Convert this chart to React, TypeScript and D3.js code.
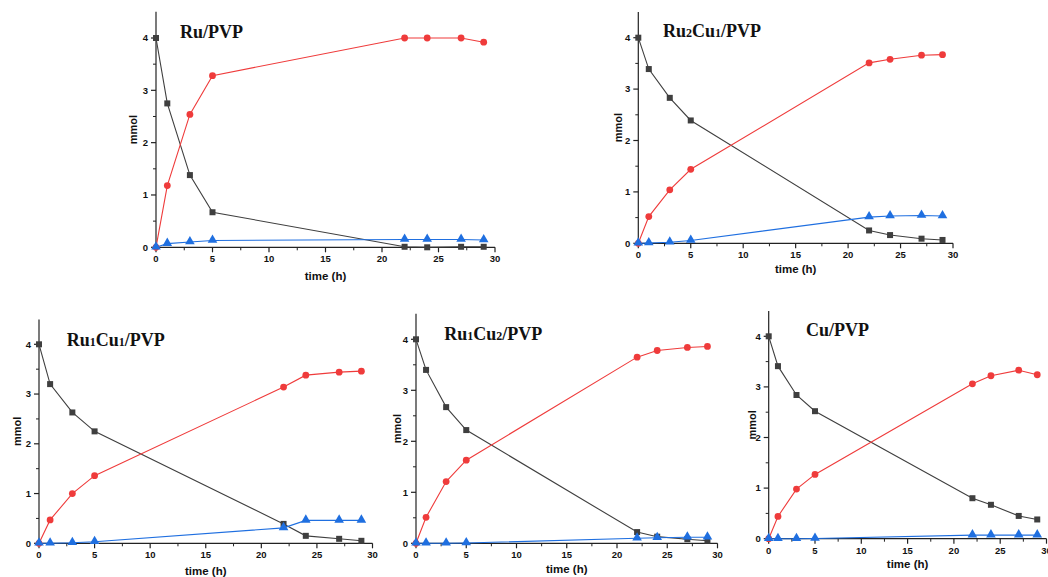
import React from "react";
import * as d3 from "d3";

const time = [0, 1, 3, 5, 22, 24, 27, 29];
const xTicks = [0, 5, 10, 15, 20, 25, 30];
const yTicks = [0, 1, 2, 3, 4];

// Panel titles (digits rendered small)
const titles = ["Ru/PVP", "Ru2Cu1/PVP", "Ru1Cu1/PVP", "Ru1Cu2/PVP", "Cu/PVP"];

// reactant (black squares)
const reactantRu = [4.0, 2.75, 1.38, 0.67, 0.01, 0.0, 0.01, 0.01];
const reactantRu2Cu1 = [4.0, 3.39, 2.83, 2.39, 0.25, 0.16, 0.09, 0.065];
const reactantRu1Cu1 = [4.0, 3.2, 2.63, 2.25, 0.39, 0.15, 0.09, 0.05];
const reactantRu1Cu2 = [4.0, 3.4, 2.67, 2.22, 0.22, 0.13, 0.08, 0.05];
const reactantCu = [4.0, 3.41, 2.84, 2.52, 0.8, 0.67, 0.45, 0.38];

// main product (red circles)
const productRu = [0, 1.18, 2.54, 3.28, 4.0, 4.0, 4.0, 3.92];
const productRu2Cu1 = [0, 0.52, 1.04, 1.44, 3.51, 3.58, 3.66, 3.67];
const productRu1Cu1 = [0, 0.47, 1.0, 1.36, 3.14, 3.38, 3.44, 3.46];
const productRu1Cu2 = [0, 0.51, 1.21, 1.63, 3.65, 3.78, 3.84, 3.86];
const productCu = [0, 0.44, 0.98, 1.27, 3.06, 3.22, 3.33, 3.24];

// by-product (blue triangles)
const byproductRu = [0, 0.07, 0.1, 0.13, 0.15, 0.15, 0.15, 0.14];
const byproductRu2Cu1 = [0, 0.005, 0.02, 0.055, 0.51, 0.53, 0.54, 0.53];
const byproductRu1Cu1 = [0, 0, 0.01, 0.03, 0.31, 0.46, 0.46, 0.46];
const byproductRu1Cu2 = [0, 0, 0, 0.005, 0.1, 0.11, 0.12, 0.12];
const byproductCu = [0, 0, 0, 0.005, 0.07, 0.07, 0.07, 0.07];

const reactants = [reactantRu, reactantRu2Cu1, reactantRu1Cu1, reactantRu1Cu2, reactantCu];
const products = [productRu, productRu2Cu1, productRu1Cu1, productRu1Cu2, productCu];
const byproducts = [byproductRu, byproductRu2Cu1, byproductRu1Cu1, byproductRu1Cu2, byproductCu];

// layout of each panel (pixel geometry)
const layouts = [
  { x0: 156, x1: 495, y0: 247.3, y4: 38, titleX: 180, titleY: 37.7, yLabX: 133, xLabY: 280 },
  { x0: 638.3, x1: 953, y0: 243.3, y4: 37.7, titleX: 663, titleY: 37.3, yLabX: 618, xLabY: 273 },
  { x0: 39, x1: 372.5, y0: 543.3, y4: 344.3, titleX: 66.7, titleY: 345.7, yLabX: 17.5, xLabY: 575 },
  { x0: 416, x1: 717.5, y0: 543.3, y4: 339.3, titleX: 444.3, titleY: 340, yLabX: 397, xLabY: 573 },
  { x0: 768.7, x1: 1046.5, y0: 538.7, y4: 336.3, titleX: 806, titleY: 335.7, yLabX: 752, xLabY: 568 },
];

const BLACK = "#3f3f3f";
const RED = "#ef3b3b";
const BLUE = "#1f6fe0";
const AXIS = "#222";

function Title({ text, x, y }: { text: string; x: number; y: number }) {
  const parts = text.split(/(\d)/).filter((p) => p.length > 0);
  return (
    <text x={x} y={y} fontFamily="'Liberation Serif', 'Times New Roman', serif" fontWeight="bold" fontSize={18} fill="#111">
      {parts.map((p, i) =>
        /\d/.test(p) ? (
          <tspan key={i} fontSize={12}>{p}</tspan>
        ) : (
          <tspan key={i}>{p}</tspan>
        )
      )}
    </text>
  );
}

function Panel({ idx }: { idx: number }) {
  const L = layouts[idx];
  const x = d3.scaleLinear().domain([0, 30]).range([L.x0, L.x1]);
  const y = d3.scaleLinear().domain([0, 4]).range([L.y0, L.y4]);
  const yTop = y(4.5);
  const line = d3
    .line<number>()
    .x((_, i) => x(time[i]))
    .y((v) => y(v));
  const tri = d3.symbol().type(d3.symbolTriangle).size(40)();
  const sans = "'Liberation Sans', Arial, sans-serif";
  const xMinor = d3.range(2.5, 30, 5);
  const yMinor = d3.range(0.5, 4.5, 1);
  return (
    <g>
      {/* axes */}
      <line x1={L.x0} x2={L.x0} y1={yTop} y2={L.y0} stroke={AXIS} strokeWidth={1.2} />
      <line x1={L.x0} x2={L.x1} y1={L.y0} y2={L.y0} stroke={AXIS} strokeWidth={1.2} />
      {yTicks.map((t) => (
        <g key={"y" + t}>
          <line x1={L.x0 - 5} x2={L.x0} y1={y(t)} y2={y(t)} stroke={AXIS} strokeWidth={1.2} />
          <text x={L.x0 - 8} y={y(t)} dy="0.35em" textAnchor="end" fontFamily={sans} fontWeight="bold" fontSize={9.5} fill="#111">
            {t}
          </text>
        </g>
      ))}
      {yMinor.map((t) => (
        <line key={"ym" + t} x1={L.x0 - 3} x2={L.x0} y1={y(t)} y2={y(t)} stroke={AXIS} strokeWidth={1} />
      ))}
      {xTicks.map((t) => (
        <g key={"x" + t}>
          <line x1={x(t)} x2={x(t)} y1={L.y0} y2={L.y0 + 5} stroke={AXIS} strokeWidth={1.2} />
          <text x={x(t)} y={L.y0 + 15} textAnchor="middle" fontFamily={sans} fontWeight="bold" fontSize={9.5} fill="#111">
            {t}
          </text>
        </g>
      ))}
      {xMinor.map((t) => (
        <line key={"xm" + t} x1={x(t)} x2={x(t)} y1={L.y0} y2={L.y0 + 3} stroke={AXIS} strokeWidth={1} />
      ))}
      <text x={(L.x0 + L.x1) / 2} y={L.xLabY} textAnchor="middle" fontFamily={sans} fontWeight="bold" fontSize={11.5} fill="#111">
        time (h)
      </text>
      <text
        transform={`translate(${L.yLabX},${(L.y0 + yTop) / 2}) rotate(-90)`}
        textAnchor="middle"
        dy="0.35em"
        fontFamily={sans}
        fontWeight="bold"
        fontSize={11}
        fill="#111"
      >
        mmol
      </text>
      <Title text={titles[idx]} x={L.titleX} y={L.titleY} />
      {/* series */}
      <path d={line(reactants[idx]) || ""} fill="none" stroke={BLACK} strokeWidth={1.1} />
      <path d={line(products[idx]) || ""} fill="none" stroke={RED} strokeWidth={1.1} />
      <path d={line(byproducts[idx]) || ""} fill="none" stroke={BLUE} strokeWidth={1.1} />
      {reactants[idx].map((v, i) => (
        <rect key={"s" + i} x={x(time[i]) - 3} y={y(v) - 3} width={6} height={6} fill={BLACK} />
      ))}
      {products[idx].map((v, i) => (
        <circle key={"c" + i} cx={x(time[i])} cy={y(v)} r={3.4} fill={RED} />
      ))}
      {byproducts[idx].map((v, i) => (
        <path key={"t" + i} d={tri || ""} transform={`translate(${x(time[i])},${y(v) - 0.5})`} fill={BLUE} />
      ))}
    </g>
  );
}

export default function App() {
  return (
    <svg
      width={1048}
      height={577}
      style={{ position: "absolute", left: 0, top: 0, background: "#fff" }}
    >
      <rect width={1048} height={577} fill="#fff" />
      {titles.map((_, i) => (
        <Panel key={i} idx={i} />
      ))}
    </svg>
  );
}
